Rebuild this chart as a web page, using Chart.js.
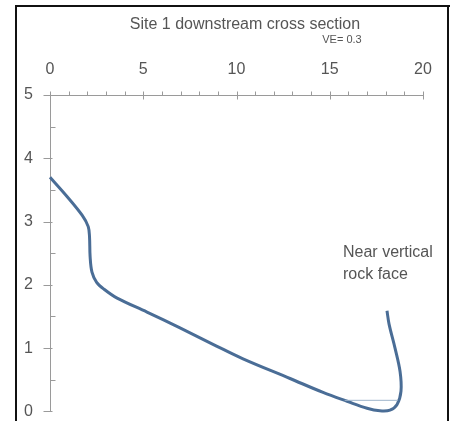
<!DOCTYPE html>
<html>
<head>
<meta charset="utf-8">
<script src="https://cdn.jsdelivr.net/npm/chart.js@4.4.1/dist/chart.umd.min.js"></script>
<style>
  html, body { margin: 0; padding: 0; background: #fff; overflow: hidden; }
  canvas { display: block; }
</style>
</head>
<body>
<canvas id="chart" width="450" height="438"></canvas>
<script>
// Channel bed: distance across (m) and elevation (m)
const distance = [0, 0.9, 1.72, 2.05, 2.12, 2.15, 2.25, 2.5, 2.9, 3.6, 5.2, 6.97, 8.74, 10.35, 12.87, 14.64, 15.93, 17.0, 17.69, 18.23, 18.61, 18.82, 18.77, 18.5, 18.18, 18.07];
const elevation = [3.70, 3.40, 3.10, 2.92, 2.75, 2.45, 2.20, 2.04, 1.93, 1.79, 1.57, 1.32, 1.06, 0.83, 0.52, 0.30, 0.16, 0.05, 0.01, 0.02, 0.11, 0.32, 0.63, 1.00, 1.38, 1.59];

// Water surface
const waterX = [15.8, 18.65];
const waterY = [0.175, 0.175];

const xMin = 0, xMax = 20, xMajor = 5, xMinor = 1;
const yMin = 0, yMax = 5, yMajor = 1, yMinor = 0.5;

const chartTitle = 'Site 1 downstream cross section';
const veNote = 'VE= 0.3';
const noteLines = ['Near vertical', 'rock face'];

const FONT = '"Liberation Sans", Arial, sans-serif';
const TEXT = '#555';
const AXIS = '#9a9a9a';

function toPoints(xs, ys) {
  return xs.map((x, i) => ({ x: x, y: ys[i] }));
}

// frame, tick marks, title and annotation text
const decorPlugin = {
  id: 'decor',
  beforeDraw(chart) {
    const ctx = chart.ctx;
    ctx.save();
    ctx.fillStyle = '#fff';
    ctx.fillRect(0, 0, chart.width, chart.height);
    ctx.fillStyle = '#111';
    ctx.fillRect(15, 5, 2, chart.height - 5); // left edge
    ctx.fillRect(15, 5, chart.width - 15, 2); // top edge
    ctx.fillRect(447, 5, 2, chart.height - 5); // right edge
    ctx.restore();
  },
  afterDraw(chart) {
    const ctx = chart.ctx;
    const xs = chart.scales.x, ys = chart.scales.y;
    ctx.save();

    ctx.strokeStyle = AXIS;
    ctx.lineWidth = 1;
    const axisY = Math.round(xs.bottom) + 0.5;
    for (let v = xMin; v <= xMax; v += xMinor) {
      const px = Math.round(xs.getPixelForValue(v)) + 0.5;
      const major = v % xMajor === 0;
      ctx.beginPath();
      ctx.moveTo(px, axisY - 4);
      ctx.lineTo(px, major ? axisY + 4 : axisY);
      ctx.stroke();
    }
    const axisX = Math.round(ys.right) + 0.5;
    for (let v = yMin; v <= yMax; v += yMinor) {
      const py = Math.round(ys.getPixelForValue(v)) + 0.5;
      const major = v % yMajor === 0;
      ctx.beginPath();
      if (major) {
        ctx.moveTo(axisX - 7, py);
        ctx.lineTo(axisX + 2, py);
      } else {
        ctx.moveTo(axisX, py);
        ctx.lineTo(axisX + 5, py);
      }
      ctx.stroke();
    }

    ctx.fillStyle = TEXT;
    ctx.textBaseline = 'middle';
    ctx.textAlign = 'center';
    ctx.font = '16px ' + FONT;
    ctx.fillText(chartTitle, 245, 25);
    ctx.font = '11px ' + FONT;
    ctx.fillText(veNote, 342, 40);
    ctx.textAlign = 'left';
    ctx.font = '16px ' + FONT;
    noteLines.forEach((t, i) => ctx.fillText(t, 343, 253 + i * 22));
    ctx.restore();
  }
};

new Chart(document.getElementById('chart'), {
  type: 'scatter',
  data: {
    datasets: [
      {
        data: toPoints(waterX, waterY),
        showLine: true,
        borderColor: '#9fb5cb',
        borderWidth: 1,
        pointRadius: 0,
        clip: false
      },
      {
        data: toPoints(distance, elevation),
        showLine: true,
        borderColor: '#4a6d96',
        borderWidth: 3,
        pointRadius: 0,
        tension: 0.35,
        clip: false
      }
    ]
  },
  options: {
    responsive: false,
    animation: false,
    devicePixelRatio: 1,
    layout: { padding: { left: 0, top: 0, right: 27, bottom: 0 } },
    plugins: {
      legend: { display: false },
      tooltip: { enabled: false }
    },
    scales: {
      x: {
        type: 'linear',
        position: 'top',
        min: xMin,
        max: xMax,
        afterFit: s => { s.height = 95; },
        grid: { display: false, drawTicks: false },
        border: { display: true, color: AXIS, width: 1 },
        ticks: {
          stepSize: xMajor,
          padding: 16,
          color: TEXT,
          font: { family: FONT, size: 16 },
          maxRotation: 0
        }
      },
      y: {
        type: 'linear',
        min: yMin,
        max: yMax,
        afterFit: s => { s.width = 50; },
        grid: { display: false, drawTicks: false },
        border: { display: true, color: AXIS, width: 1 },
        ticks: {
          stepSize: yMajor,
          padding: 17,
          color: TEXT,
          font: { family: FONT, size: 16 }
        }
      }
    }
  },
  plugins: [decorPlugin]
});
</script>
</body>
</html>
